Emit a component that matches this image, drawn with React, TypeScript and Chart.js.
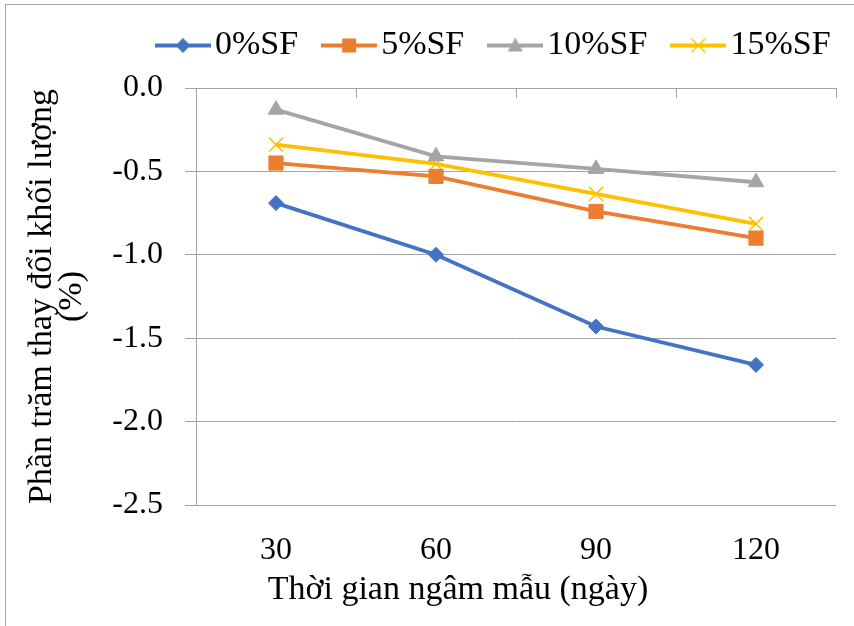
import React, { useEffect, useRef } from 'react';
import { Chart, registerables } from 'chart.js';

Chart.register(...registerables);

// ---- data ----
const categories = ['30', '60', '90', '120'];
const seriesNames = ['0%SF', '5%SF', '10%SF', '15%SF'];
const sf0 = [-0.69, -1.0, -1.43, -1.66];
const sf5 = [-0.45, -0.53, -0.74, -0.9];
const sf10 = [-0.13, -0.41, -0.485, -0.565];
const sf15 = [-0.34, -0.455, -0.635, -0.815];
const yTicks = [0, -0.5, -1.0, -1.5, -2.0, -2.5];
const yTitle = ['Phần trăm thay đổi khối lượng', '(%)'];
const xTitle = 'Thời gian ngâm mẫu (ngày)';

const FONT = "'Liberation Serif', 'Times New Roman', 'DejaVu Serif', serif";
const GRID = '#a3a3a3';
const colors = ['#4472C4', '#ED7D31', '#A5A5A5', '#FFC000'];
const shapes = ['diamond', 'square', 'triangle', 'x'];
const LINE_W = 3.8;

function makeIcon(color: string, shape: string): HTMLCanvasElement {
  const c = document.createElement('canvas');
  c.width = 56;
  c.height = 22;
  const g = c.getContext('2d')!;
  const cx = 28, cy = 11;
  g.strokeStyle = color;
  g.lineWidth = LINE_W;
  g.beginPath();
  g.moveTo(0, cy);
  g.lineTo(56, cy);
  g.stroke();
  g.fillStyle = color;
  g.beginPath();
  if (shape === 'diamond') {
    g.moveTo(cx, cy - 7.5); g.lineTo(cx + 7.5, cy); g.lineTo(cx, cy + 7.5); g.lineTo(cx - 7.5, cy); g.closePath(); g.fill();
  } else if (shape === 'square') {
    g.rect(cx - 7, cy - 7, 14, 14); g.fill();
  } else if (shape === 'triangle') {
    g.moveTo(cx, cy - 8); g.lineTo(cx + 7.5, cy + 6); g.lineTo(cx - 7.5, cy + 6); g.closePath(); g.fill();
  } else {
    g.lineWidth = 1.5;
    g.moveTo(cx - 7, cy - 7); g.lineTo(cx + 7, cy + 7);
    g.moveTo(cx + 7, cy - 7); g.lineTo(cx - 7, cy + 7);
    g.stroke();
  }
  return c;
}

const layoutTweak = {
  id: 'layoutTweak',
  afterLayout(chart: any) {
    const lg = chart.legend;
    if (lg) {
      lg.left = 132;
      lg.right = 900;
      lg.top = -7.5;
    }
    const tb = chart.titleBlock;
    if (tb) {
      tb.left = 62;
      tb.right = 854;
    }
  },
};

export default function App() {
  const ref = useRef<HTMLCanvasElement>(null);

  useEffect(() => {
    let chart: any = null;
    let cancelled = false;
    const build = () => {
      if (cancelled || !ref.current) return;
      const icons = colors.map((c, i) => makeIcon(c, shapes[i]));
      const tickFont = { family: FONT, size: 32, weight: 'normal' as const };
      const bigFont = { family: FONT, size: 34, weight: 'normal' as const };
      const mk = (label: string, data: number[], i: number, pointStyle: string, radius: number, bw = 1) => ({
        label,
        data,
        borderColor: colors[i],
        backgroundColor: colors[i],
        borderWidth: LINE_W,
        pointStyle,
        pointRadius: radius,
        pointBorderWidth: bw,
        pointBackgroundColor: colors[i],
        pointBorderColor: colors[i],
        tension: 0,
        fill: false,
      });
      chart = new Chart(ref.current, {
        type: 'line',
        data: {
          labels: categories,
          datasets: [
            mk(seriesNames[0], sf0, 0, 'rectRot', 7.5),
            mk(seriesNames[1], sf5, 1, 'rect', 10),
            mk(seriesNames[2], sf10, 2, 'triangle', 9),
            mk(seriesNames[3], sf15, 3, 'crossRot', 10, 1.5),
          ],
        },
        options: {
          responsive: false,
          animation: false,
          events: [],
          font: { family: FONT },
          layout: { padding: { left: 0, right: 18, top: 0, bottom: 0 } },
          plugins: {
            tooltip: { enabled: false },
            legend: {
              display: true,
              position: 'top',
              align: 'start',
              labels: {
                font: bigFont,
                color: '#000',
                usePointStyle: true,
                pointStyleWidth: 30,
                padding: 36,
                generateLabels: (ch: any) => {
                  const items = Chart.defaults.plugins.legend.labels.generateLabels(ch);
                  return items.map((it: any, i: number) => ({ ...it, pointStyle: icons[i], lineWidth: 0 }));
                },
              },
            },
            title: {
              display: true,
              position: 'bottom',
              text: xTitle,
              color: '#000',
              font: { ...bigFont, lineHeight: 1.2 },
              padding: { top: 0, bottom: 15.6 },
            },
          },
          scales: {
            x: {
              type: 'category',
              position: 'bottom',
              offset: true,
              grid: { display: false, drawTicks: false },
              border: { display: false },
              ticks: { font: tickFont, color: '#000', padding: 26, maxRotation: 0, autoSkip: false },
              afterFit: (s: any) => { s.height = 64.6; },
            },
            xTop: {
              type: 'category',
              position: 'top',
              labels: categories,
              offset: true,
              grid: { display: true, drawOnChartArea: false, drawTicks: true, tickLength: -10, offset: true, color: GRID, lineWidth: 1 },
              border: { display: true, color: GRID },
              ticks: { display: false },
              afterFit: (s: any) => { s.height = 8; },
            },
            y: {
              type: 'linear',
              min: Math.min(...yTicks),
              max: Math.max(...yTicks),
              ticks: {
                stepSize: 0.5,
                font: tickFont,
                color: '#000',
                padding: 22,
                callback: (v: any) => Number(v).toFixed(1),
              },
              grid: { color: GRID, tickLength: 11, lineWidth: 1 },
              border: { display: true, color: GRID },
              title: {
                display: true,
                text: yTitle,
                color: '#000',
                font: { ...bigFont, lineHeight: 0.868 },
                padding: { top: 27.75, bottom: 0 },
              },
              afterFit: (s: any) => { s.width = 196; },
            },
          },
        } as any,
        plugins: [layoutTweak],
      });
    };
    const fontsApi: any = (document as any).fonts;
    if (fontsApi && fontsApi.load) {
      fontsApi.load("32px 'Liberation Serif'", 'Phần trăm 0.5%SF').then(build, build);
    } else {
      build();
    }
    return () => {
      cancelled = true;
      if (chart) chart.destroy();
    };
  }, []);

  return (
    <div style={{ position: 'fixed', left: 0, top: 0, width: 854, height: 626, background: '#fff', overflow: 'hidden', fontFamily: FONT }}>
      <div style={{ position: 'absolute', left: 5, top: 4, width: 900, height: 700, border: '1px solid #a6a6a6' }} />
      <canvas ref={ref} width={854} height={626} style={{ position: 'absolute', left: 0, top: 0 }} />
    </div>
  );
}
